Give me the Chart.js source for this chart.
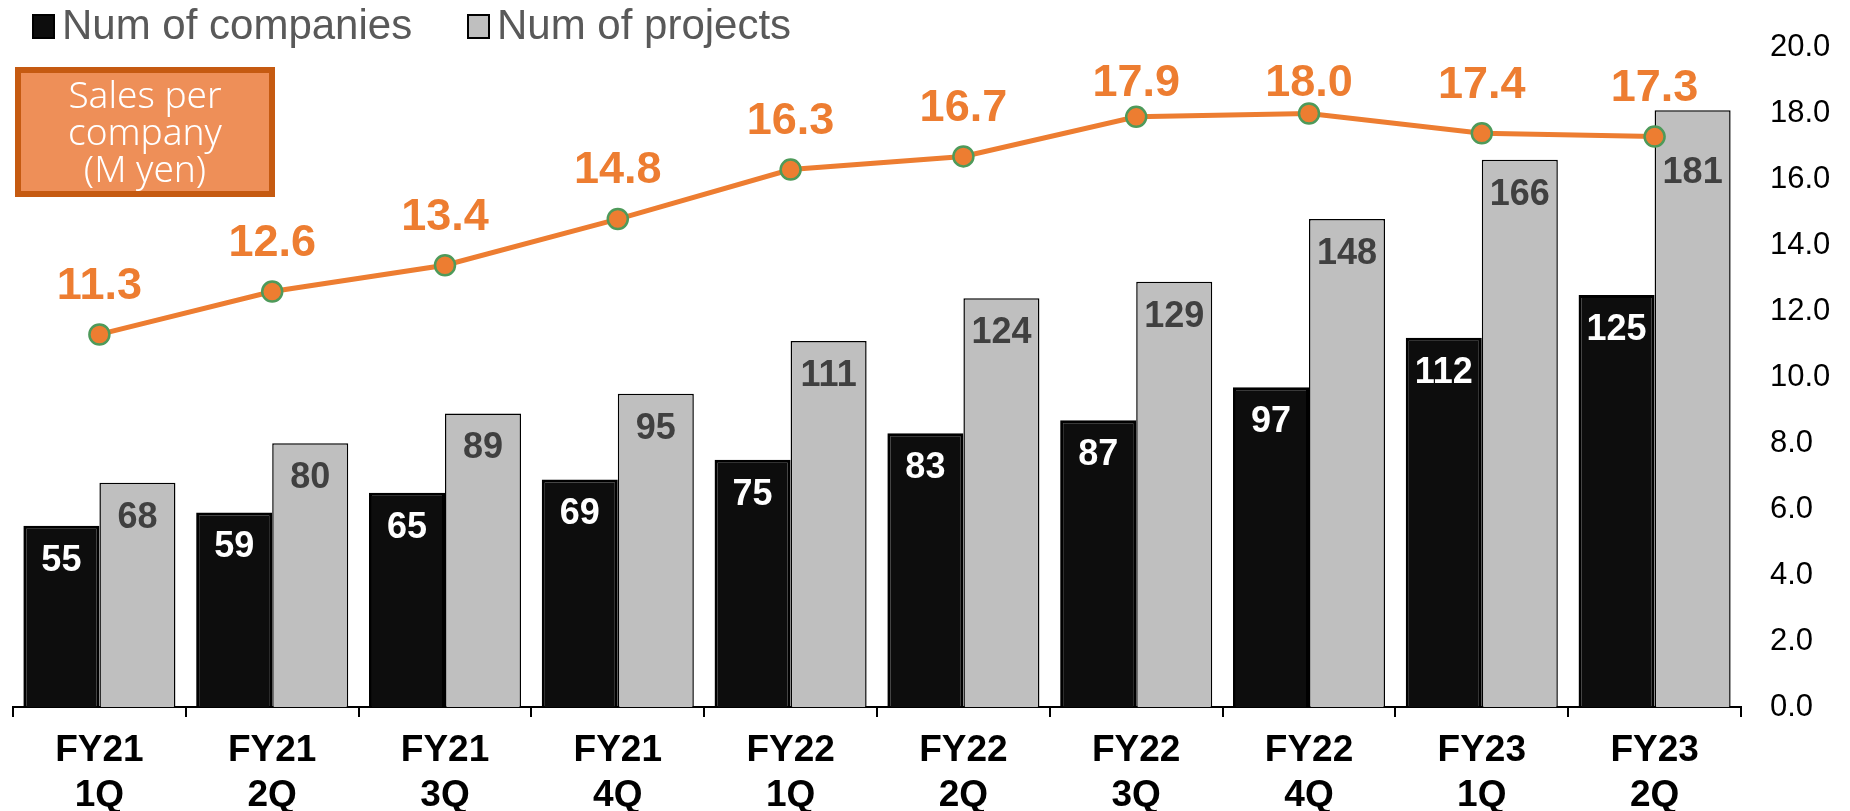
<!DOCTYPE html>
<html><head><meta charset="utf-8">
<script src="https://cdn.jsdelivr.net/npm/chart.js@4.4.1/dist/chart.umd.min.js"></script>
<style>html,body{margin:0;padding:0;background:#fff;}#wrap{width:1850px;height:811px;}</style>
</head><body><div id="wrap"><canvas id="c" width="1850" height="811"></canvas></div>
<script>
const categories = [['FY21','1Q'],['FY21','2Q'],['FY21','3Q'],['FY21','4Q'],['FY22','1Q'],['FY22','2Q'],['FY22','3Q'],['FY22','4Q'],['FY23','1Q'],['FY23','2Q']];
const numCompanies = [55,59,65,69,75,83,87,97,112,125];
const numProjects = [68,80,89,95,111,124,129,148,166,181];
const salesPerCompany = [11.3,12.6,13.4,14.8,16.3,16.7,17.9,18.0,17.4,17.3];
const rightTicks = [0,2,4,6,8,10,12,14,16,18,20];
const FONT = "'Liberation Sans', Arial, sans-serif";

const deco = {
  id:'deco',
  afterDatasetsDraw(chart){
    const ctx = chart.ctx;
    const lineMeta = chart.getDatasetMeta(2);
    [0,1].forEach(di=>{
      const meta = chart.getDatasetMeta(di);
      const vals = chart.data.datasets[di].data;
      meta.data.forEach((bar,i)=>{
        const pt = lineMeta.data[i];
        let y = Math.max(bar.y + 35, pt.y + 36);
        ctx.save();
        ctx.font = "bold 36px " + FONT;
        ctx.fillStyle = di===0 ? '#ffffff' : '#404040';
        ctx.textAlign='center'; ctx.textBaseline='middle';
        ctx.fillText(String(vals[i]), bar.x, y);
        ctx.restore();
      });
    });
    lineMeta.data.forEach((pt,i)=>{
      ctx.save();
      ctx.font = "bold 45px " + FONT;
      ctx.fillStyle = '#ED7D31';
      ctx.textAlign='center'; ctx.textBaseline='middle';
      ctx.fillText(salesPerCompany[i].toFixed(1), pt.x, Math.max(pt.y - 48, 84));
      ctx.restore();
    });
  },
  afterDraw(chart){
    const ctx = chart.ctx;
    ctx.save();
    ctx.font = "42px " + FONT;
    ctx.textBaseline='middle'; ctx.textAlign='left';
    ctx.fillStyle='#0d0d0d'; ctx.strokeStyle='#000'; ctx.lineWidth=2;
    ctx.fillRect(33,15,21,23); ctx.strokeRect(33,15,21,23);
    ctx.fillStyle='#595959';
    ctx.fillText(chart.data.datasets[0].label, 62, 27);
    ctx.fillStyle='#BFBFBF';
    ctx.fillRect(468,15,21,23); ctx.strokeRect(468,15,21,23);
    ctx.fillStyle='#595959';
    ctx.fillText(chart.data.datasets[1].label, 497, 27);
    ctx.fillStyle='#EE8F58';
    ctx.fillRect(15,67,260,130);
    ctx.strokeStyle='#C55A11'; ctx.lineWidth=6;
    ctx.strokeRect(18,70,254,124);
    ctx.fillStyle='#ffffff';
    ctx.font = "300 37px 'Noto Sans', " + FONT;
    ctx.textAlign='center';
    const lines = chart.data.datasets[2].label.split('\n');
    lines.forEach((t,k)=>ctx.fillText(t, 145, 97 + k*37));
    ctx.restore();
  }
};

new Chart(document.getElementById('c'), {
  type:'bar',
  data:{
    labels: categories,
    datasets:[
      {label:'Num of companies', data:numCompanies, backgroundColor:'#0D0D0D', borderColor:'#000', borderWidth:3, yAxisID:'y', order:1, categoryPercentage:0.88, barPercentage:1.0},
      {label:'Num of projects', data:numProjects, backgroundColor:'#BFBFBF', borderColor:'#000', borderWidth:1.5, yAxisID:'y', order:1, categoryPercentage:0.88, barPercentage:1.0},
      {type:'line', label:'Sales per\ncompany\n(M yen)', data:salesPerCompany, borderColor:'#ED7D31', borderWidth:5, backgroundColor:'#ED7D31', pointBackgroundColor:'#ED7D31', pointBorderColor:'#4E9A5A', pointBorderWidth:2.5, pointRadius:10, yAxisID:'y2', order:0, tension:0}
    ]
  },
  options:{
    responsive:false, animation:false,
    layout:{padding:{left:13, top:43, right:0, bottom:0}},
    plugins:{legend:{display:false}, tooltip:{enabled:false}},
    scales:{
      x:{
        grid:{display:true, drawOnChartArea:false, drawTicks:true, tickLength:10, color:'#000', lineWidth:2},
        border:{display:true, color:'#000', width:2},
        ticks:{font:{family:FONT, size:37, weight:'bold', lineHeight:1.22}, color:'#000', padding:11, maxRotation:0, autoSkip:false},
        afterFit(s){ s.height = 104; }
      },
      y:{display:false, min:0, max:200},
      y2:{
        position:'right', min:0, max:20,
        afterBuildTicks(s){ s.ticks = rightTicks.map(v=>({value:v})); },
        grid:{display:false, drawTicks:false},
        border:{display:false},
        ticks:{font:{family:FONT, size:31}, color:'#000', padding:29, callback:v=>Number(v).toFixed(1)},
        afterFit(s){ s.width = 109; }
      }
    }
  },
  plugins:[deco]
});
</script></body></html>
